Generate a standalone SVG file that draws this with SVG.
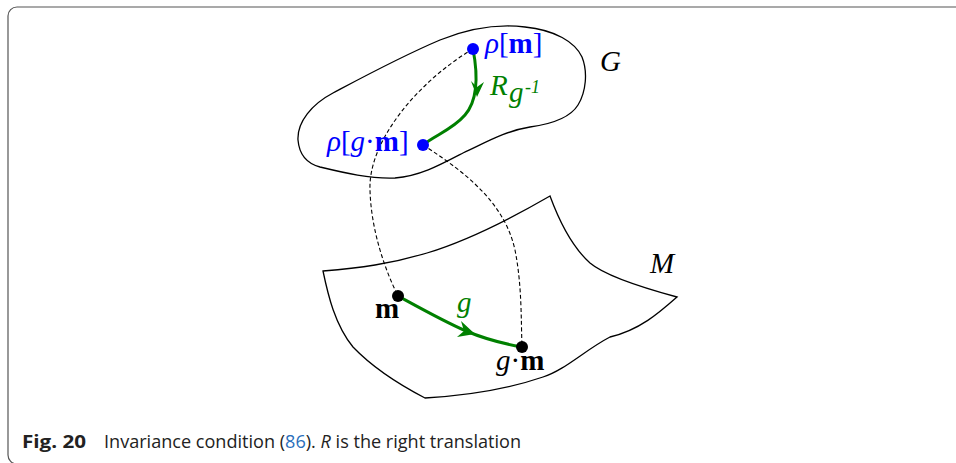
<svg xmlns="http://www.w3.org/2000/svg" width="956" height="463" viewBox="0 0 956 463">
<style>
.frame{fill:none;stroke:#555;stroke-width:1.2}
.outline{fill:none;stroke:#000;stroke-width:1.3}
.dash{fill:none;stroke:#000;stroke-width:1.1;stroke-dasharray:4,2.5}
.garrow{fill:none;stroke:#008000;stroke-width:3}
.math{font-family:"Liberation Serif","Times New Roman",serif;font-size:29px}
.sup{font-size:18px}
.it{font-style:italic}
.bd{font-weight:bold}
.blue{fill:#0000ff}
.green{fill:#008000}
.cap{font-family:"Open Sans","Noto Sans",sans-serif;font-size:18px;fill:#222}
</style>
<rect class="frame" x="8" y="7" width="1000" height="457" rx="9"/>
<g id="G">
<path class="outline" d="M298,140 C297,122 312,104 333,93 C365,76 400,57 440,40 C470,28 500,24 525,27 C555,30 575,42 582,57 C588,72 586,92 578,105 C570,118 552,124 530,127 C505,131 485,143 463,153 C440,165 420,176 395,178 C370,179 345,173 320,167 C305,163 299,152 298,140 Z"/>
<text class="math it" x="600" y="71">G</text>
</g>
<g id="M">
<path class="outline" d="M323,271 C360,268 390,264 427,253 C460,243 505,222 550,196 C557,215 570,245 590,263 C603,274 640,287 677,297 C660,312 640,330 610,337 C585,350 565,370 543,377 C505,390 460,396 425,398 C400,385 375,370 353,347 C335,325 328,295 323,271 Z"/>
<text class="math it" x="650" y="273">M</text>
</g>
<g id="connectors">
<path class="dash" d="M473,49 C420,80 368,140 370,190 C371,230 385,270 398,296"/>
<path class="dash" d="M423,145 C470,175 505,205 515,250 C522,285 521,320 522,347"/>
<path class="garrow" d="M473,49 C478,75 478,100 465,115 C452,130 435,135 423,145"/>
<path fill="#008000" d="M477,97 L471,81 L477,87 L484,82 Z"/>
<path class="garrow" d="M398,296 C420,308 445,322 466,331 C485,339 505,344 522,347"/>
<path fill="#008000" d="M475,334 L457,337 L464,331 L461,321 Z"/>
</g>
<g id="rho-m">
<circle cx="473" cy="49" r="6" fill="#0000ff"/>
<text class="math blue" x="485" y="53"><tspan class="it">ρ</tspan>[<tspan class="bd">m</tspan>]</text>
</g>
<g id="rho-gm">
<circle cx="423" cy="145" r="6" fill="#0000ff"/>
<text class="math blue" x="327" y="151"><tspan class="it">ρ</tspan>[<tspan class="it">g</tspan>·<tspan class="bd">m</tspan>]</text>
</g>
<g id="R-label">
<text class="math green it" x="490" y="95">R</text>
<text class="math green it" x="509" y="102">g</text>
<text class="math sup green it" x="525" y="93">-1</text>
</g>
<g id="m">
<circle cx="398" cy="296" r="6" fill="#000"/>
<text class="math bd" x="375" y="318">m</text>
</g>
<g id="g-label">
<text class="math green it" x="457" y="312">g</text>
</g>
<g id="gm">
<circle cx="522" cy="347" r="6" fill="#000"/>
<text class="math" x="496" y="370"><tspan class="it">g</tspan>·<tspan class="bd">m</tspan></text>
</g>
<text class="cap" x="22" y="448" font-weight="bold" textLength="64" lengthAdjust="spacingAndGlyphs">Fig. 20</text>
<text class="cap" x="104" y="448" textLength="417" lengthAdjust="spacingAndGlyphs">Invariance condition (<tspan fill="#2a6ebb">86</tspan>). <tspan font-style="italic">R</tspan> is the right translation</text>
</svg>
